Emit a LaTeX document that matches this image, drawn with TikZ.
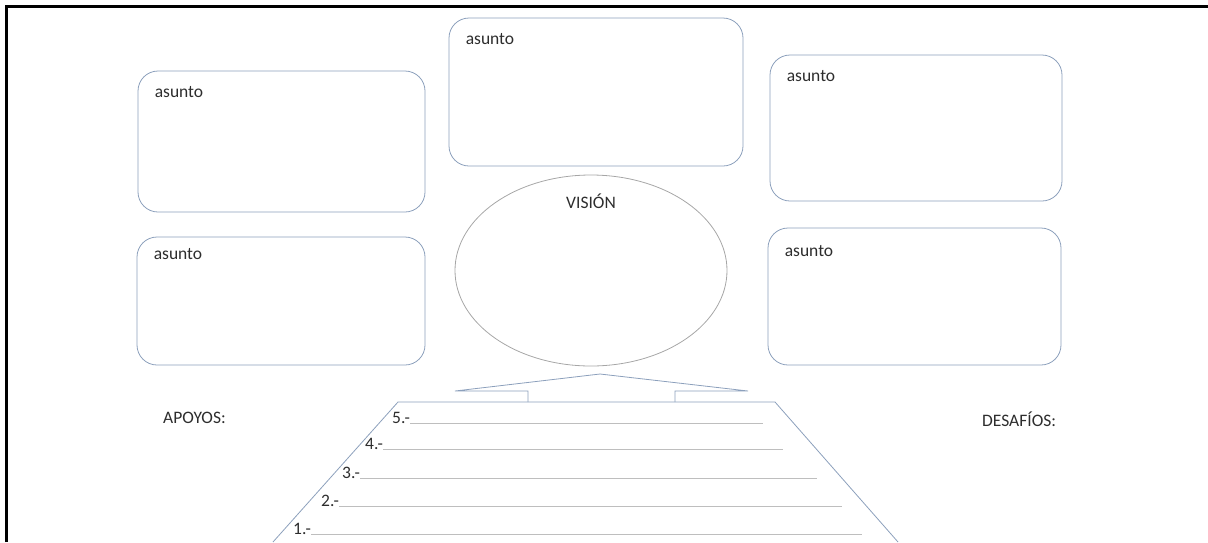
\documentclass[tikz,border=0pt]{standalone}
\usepackage{fontspec}
\setmainfont{Carlito}
\usetikzlibrary{shapes.geometric,calc}
\definecolor{contorno}{RGB}{140,160,188}
\definecolor{renglongris}{RGB}{190,190,190}
\definecolor{letra}{RGB}{45,45,45}
\tikzstyle{caja}=[draw=contorno, line width=0.8pt, rounded corners=20pt, inner sep=0pt]
\tikzstyle{asunto}=[anchor=base west, inner sep=0pt, xshift=17pt, yshift=-27pt, text=letra]
\tikzstyle{vision}=[draw=gray!70, line width=0.8pt, ellipse, inner sep=0pt, minimum width=272pt, minimum height=191pt]
\tikzstyle{rotulo}=[anchor=base west, inner sep=0pt, text=letra]
\tikzstyle{renglon}=[draw=renglongris, line width=0.6pt]
\tikzstyle{linea}=[draw=contorno, line width=0.8pt]
\tikzstyle{marco}=[draw=black, line width=3pt]

\begin{document}
\begin{tikzpicture}[x=1pt, y=-1pt, font=\fontsize{17.5}{21}\selectfont]

\useasboundingbox (0,0) rectangle (1208,542);
\draw [marco] (6,542) -- (6,6) -- (1208,6);

\node (izqarriba) [caja, minimum width=287pt, minimum height=141pt, label={[asunto]north west:asunto}] at (281.5,141.5) {};
\node (izqabajo) [caja, minimum width=288pt, minimum height=128pt, label={[asunto, yshift=4pt]north west:asunto}] at (281,301) {};
\node (centro) [caja, minimum width=294pt, minimum height=148pt, label={[asunto]north west:asunto}] at (596,92) {};
\node (derarriba) [caja, minimum width=292pt, minimum height=146pt, label={[asunto]north west:asunto}] at (916,128) {};
\node (derabajo) [caja, minimum width=293pt, minimum height=137pt, label={[asunto, yshift=-2pt]north west:asunto}] at (914.5,296.5) {};
\node (elipse) [vision, label={[anchor=base, inner sep=0pt, yshift=-34pt, text=letra]north:VISIÓN}] at (591,270.5) {};

\node (apoyos) [rotulo] at (163,423) {APOYOS:};
\node (desafios) [rotulo] at (982,426) {DESAFÍOS:};

\draw [linea] (528,402) -- (528,391) -- (455,391) -- (600,374) -- (748,391) -- (675,391) -- (675,402);
\draw [linea] (273,542) -- (398,402) -- (775,402) -- (898,542);

\node (n5) [rotulo] at (392,423) {5.-};
\node (n4) [rotulo] at (365,449) {4.-};
\node (n3) [rotulo] at (342,478) {3.-};
\node (n2) [rotulo] at (321,506) {2.-};
\node (n1) [rotulo] at (293,534) {1.-};

\coordinate (f5) at (763,423);
\coordinate (f4) at (783,449);
\coordinate (f3) at (817,478);
\coordinate (f2) at (842,506);
\coordinate (f1) at (862,534);

\draw [renglon] (n5.base east) -- (f5);
\draw [renglon] (n4.base east) -- (f4);
\draw [renglon] (n3.base east) -- (f3);
\draw [renglon] (n2.base east) -- (f2);
\draw [renglon] (n1.base east) -- (f1);

\end{tikzpicture}
\end{document}
